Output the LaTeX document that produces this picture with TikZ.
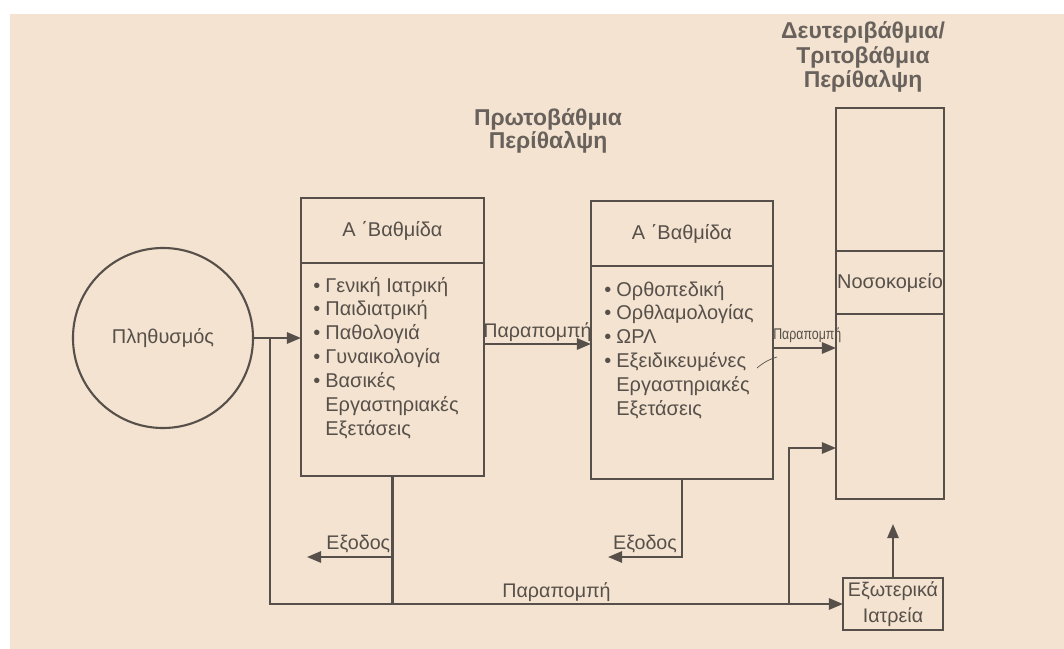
\documentclass[tikz,border=0pt]{standalone}
\usepackage{fontspec}
\setmainfont{Liberation Sans}
\usetikzlibrary{arrows.meta,positioning}

\definecolor{paper}{HTML}{F3E3D0}
\definecolor{ink}{HTML}{57504A}
\newcommand{\bul}{\makebox[8.6pt][l]{\textbullet}}
\newcommand{\gap}{\hspace*{8.6pt}}

\tikzset{
    box/.style={draw=ink, line width=1.5pt, inner sep=0pt, outer sep=0pt, text=ink,
        font=\fontsize{14.2}{17}\selectfont},
    lnk/.style={draw=ink, line width=1.5pt},
    arr/.style={lnk, -{Triangle[length=10pt,width=8pt]}},
    txt/.style={text=ink, inner sep=0pt, font=\fontsize{14}{17}\selectfont},
    tiny/.style={text=ink, inner sep=0pt, font=\fontsize{11}{12}\selectfont},
    ttl/.style={text=ink!90, inner sep=0pt, align=center, font=\bfseries\fontsize{16.3}{16}\selectfont},
}

\begin{document}
\begin{tikzpicture}[x=0.025cm, y=-0.025cm]
    \fill[white] (0,0) rectangle (1064,649);
    \fill[paper] (10,14) rectangle (1064,649);

    \node[ttl] (prim) at (548,131) {Πρωτοβάθμια\\Περίθαλψη};
    \node[ttl, font=\bfseries\fontsize{16.3}{17.5}\selectfont] (sec) at (863,57) {Δευτεριβάθμια/\\Τριτοβάθμια\\Περίθαλψη};

    \node[box, circle, minimum size=4.5cm] (pop) at (163,338) {Πληθυσμός};

    \node[box, minimum width=4.575cm, minimum height=1.625cm] (b1head) at (392.5,230.5) {Α ΄Βαθμίδα};
    \node[box, minimum width=4.575cm, minimum height=5.325cm, below=0pt of b1head] (b1) {};
    \node[txt, font=\fontsize{14.2}{17}\selectfont, anchor=base west] (b1list) at (313,292) {\begin{tabular}[t]{@{}l@{}}
        \bul Γενική Ιατρική\\
        \bul Παιδιατρική\\
        \bul Παθολογιά\\
        \bul Γυναικολογία\\
        \bul Βασικές\\
        \gap Εργαστηριακές\\
        \gap Εξετάσεις
    \end{tabular}};

    \node[box, minimum width=4.55cm, minimum height=1.625cm] (b2head) at (682,233.5) {Α ΄Βαθμίδα};
    \node[box, minimum width=4.55cm, minimum height=5.325cm, below=0pt of b2head] (b2) {};
    \node[txt, font=\fontsize{14.2}{17}\selectfont, anchor=base west] (b2list) at (604,296) {\begin{tabular}[t]{@{}l@{}}
        \bul Ορθοπεδική\\
        \bul Ορθλαμολογίας\\
        \bul ΩΡΛ\\
        \bul Εξειδικευμένες\\
        \gap Εργαστηριακές\\
        \gap Εξετάσεις
    \end{tabular}};

    \node[box, minimum width=2.7cm, minimum height=3.575cm] (ha) at (890,179.5) {};
    \node[box, minimum width=2.7cm, minimum height=1.575cm, below=0pt of ha] (hm) {Νοσοκομείο};
    \node[box, minimum width=2.7cm, minimum height=4.625cm, below=0pt of hm] (hb) {};

    \node[box, align=center, minimum width=2.5cm, minimum height=1.3cm,
        font=\fontsize{14}{18.5}\selectfont] (ext) at (893,604) {Εξωτερικά\\Ιατρεία};

    \coordinate (j1) at (270,338);
    \coordinate (j3) at (789,604);
    \coordinate (ex1) at (307,557);
    \coordinate (ex2) at (608,557);

    \draw[arr] (pop.east) -- (pop.east -| b1.west);
    \draw[arr] (j1) |- (ext.west) node[txt, pos=0.75, above=1pt] {Παραπομπή};
    \draw[lnk] (b1.south) -- (b1.south |- ext.west);
    \draw[arr] (b1.south |- ex1) -- (ex1) node[txt, pos=0.4, above=2pt] {Εξοδος};
    \draw[arr] (b1.east |- 0,344) -- (b2.west |- 0,344) node[txt, midway, above=1pt] {Παραπομπή};
    \draw[arr] (b2.south) |- (ex2) node[txt, pos=0.75, above=2pt] {Εξοδος};
    \draw[arr] (b2.east |- 0,348) -- (hb.west |- 0,348) node[tiny, midway, xshift=2pt, above=3pt] {\scalebox{0.8}[1]{Παραπομπή}};
    \draw[arr] (j3) |- (hb.west |- 0,448);
    \draw[arr] (ext.north) -- (ext.north |- 0,524);
    \draw[ink, line width=0.5pt] (757,368) .. controls (764,362) and (770,359) .. (777,357);
\end{tikzpicture}
\end{document}
